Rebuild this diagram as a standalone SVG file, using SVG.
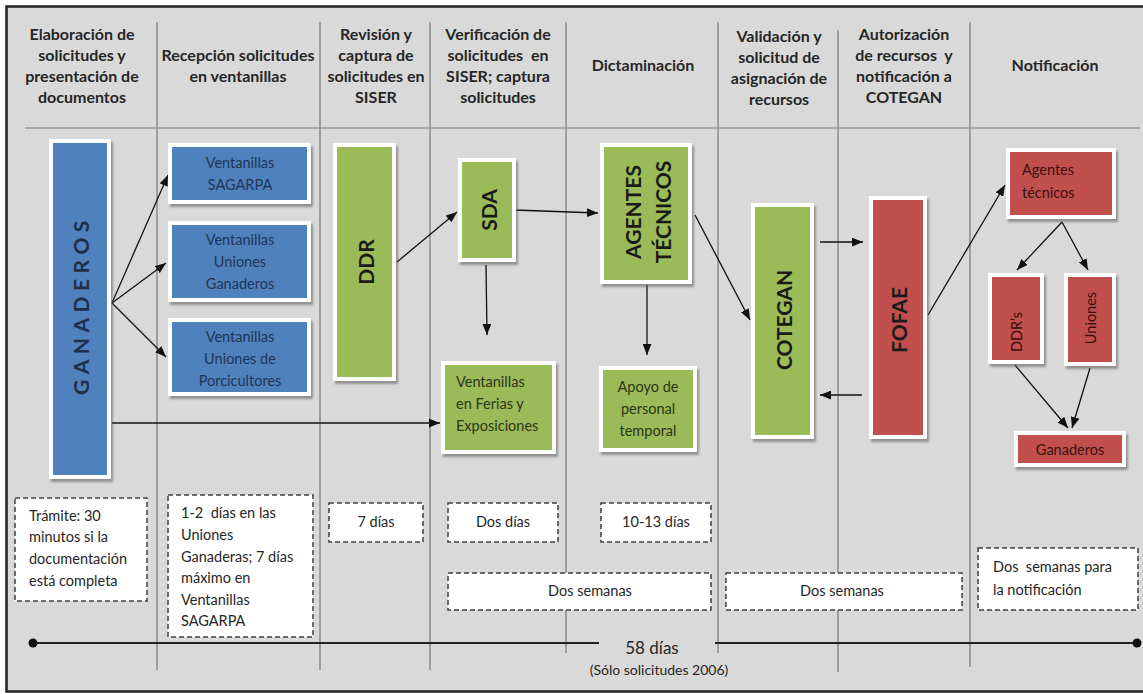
<svg xmlns="http://www.w3.org/2000/svg" width="1143" height="694" viewBox="0 0 1143 694">
<style>
  .hdr{font-family:Lato,"Liberation Sans",sans-serif;font-weight:bold;font-size:16px;fill:#262626;text-anchor:middle}
  .col{stroke:#8a8a8a;stroke-width:1.5;fill:none}
  .box{stroke:#fff;stroke-width:4}
  .blue{fill:#4f81bd}
  .green{fill:#9bbb59}
  .red{fill:#c0504d}
  .t{font-family:Lato,"Liberation Sans",sans-serif;font-size:14.5px}
  .tb{fill:#1f3558}
  .tg{fill:#2b3516}
  .tr{fill:#3a1010}
  .big{font-family:Lato,"Liberation Sans",sans-serif;font-weight:bold;font-size:21px;text-anchor:middle;dominant-baseline:central}
  .mid{text-anchor:middle}
  .dash{fill:#fff;stroke:#404040;stroke-width:1.5;stroke-dasharray:5 3}
  .dt{font-family:Lato,"Liberation Sans",sans-serif;font-size:14.5px;fill:#262626}
  .arr{stroke:#111;stroke-width:1.3;fill:none;marker-end:url(#ah)}
</style>
<defs>
  <marker id="ah" viewBox="0 0 10 8" refX="10" refY="4" markerWidth="11" markerHeight="9" markerUnits="userSpaceOnUse" orient="auto">
    <path d="M0,0 L10,4 L0,8 z" fill="#111"/>
  </marker>
  <filter id="sh" x="-10%" y="-10%" width="130%" height="130%">
    <feDropShadow dx="2" dy="3" stdDeviation="1.2" flood-color="#555" flood-opacity="0.55"/>
  </filter>
</defs>

<rect x="0" y="0" width="1143" height="694" fill="#fff"/>
<rect x="6.5" y="6.5" width="1140" height="685" fill="#d9d9d9" stroke="#222" stroke-width="2.5"/>

<g id="grid">
  <line class="col" x1="25" y1="128" x2="1140" y2="128" stroke-width="2" style="stroke:#9a9a9a"/>
  <line class="col" x1="157" y1="22" x2="157" y2="670"/>
  <line class="col" x1="320" y1="22" x2="320" y2="670"/>
  <line class="col" x1="430" y1="22" x2="430" y2="670"/>
  <line class="col" x1="566" y1="22" x2="566" y2="653"/>
  <line class="col" x1="718" y1="22" x2="718" y2="653"/>
  <line class="col" x1="838" y1="30" x2="838" y2="672"/>
  <line class="col" x1="970" y1="22" x2="970" y2="667"/>
</g>

<g id="headers">
  <text class="hdr" x="82" y="40">Elaboración de</text>
  <text class="hdr" x="82" y="61">solicitudes y</text>
  <text class="hdr" x="82" y="82">presentación de</text>
  <text class="hdr" x="82" y="103">documentos</text>
  <text class="hdr" x="238" y="61">Recepción solicitudes</text>
  <text class="hdr" x="238" y="82">en ventanillas</text>
  <text class="hdr" x="376" y="40">Revisión y</text>
  <text class="hdr" x="376" y="61">captura de</text>
  <text class="hdr" x="376" y="82">solicitudes en</text>
  <text class="hdr" x="376" y="103">SISER</text>
  <text class="hdr" x="498" y="40">Verificación de</text>
  <text class="hdr" x="498" y="61" xml:space="preserve">solicitudes  en</text>
  <text class="hdr" x="498" y="82">SISER; captura</text>
  <text class="hdr" x="498" y="103">solicitudes</text>
  <text class="hdr" x="643" y="71">Dictaminación</text>
  <text class="hdr" x="779" y="42">Validación y</text>
  <text class="hdr" x="779" y="63">solicitud de</text>
  <text class="hdr" x="779" y="84">asignación de</text>
  <text class="hdr" x="779" y="105">recursos</text>
  <text class="hdr" x="904" y="40">Autorización</text>
  <text class="hdr" x="904" y="61" xml:space="preserve">de recursos  y</text>
  <text class="hdr" x="904" y="82">notificación a</text>
  <text class="hdr" x="904" y="103">COTEGAN</text>
  <text class="hdr" x="1055" y="71">Notificación</text>
</g>

<g id="connectors">
  <path class="arr" d="M112,303 L168,175"/>
  <path class="arr" d="M112,303 L166,263"/>
  <path class="arr" d="M112,303 L166,357"/>
  <path class="arr" d="M112,423 L440,423"/>
  <path class="arr" d="M397,262 L457,212"/>
  <path class="arr" d="M514,210 L598,213"/>
  <path class="arr" d="M486,265 L487,335"/>
  <path class="arr" d="M647,285 L647,355"/>
  <path class="arr" d="M695,215 L750,320"/>
  <path class="arr" d="M820,242 L863,242"/>
  <path class="arr" d="M862,395 L820,395"/>
  <path class="arr" d="M928,315 L1005,185"/>
  <path class="arr" d="M1062,222 L1017,270"/>
  <path class="arr" d="M1062,222 L1088,270"/>
  <path class="arr" d="M1015,365 L1068,428"/>
  <path class="arr" d="M1090,368 L1072,428"/>
</g>

<g id="ganaderos">
  <rect class="box blue" x="51" y="141" width="58" height="336" filter="url(#sh)"/>
  <text class="big" x="80" y="305" transform="rotate(-90 80 305)" fill="#1d2f4a" letter-spacing="5.5">GANADEROS</text>
</g>
<g id="v-sagarpa">
  <rect class="box blue" x="170" y="145" width="139" height="57" filter="url(#sh)"/>
  <text class="t tb mid" x="240" y="168">Ventanillas</text>
  <text class="t tb mid" x="240" y="190">SAGARPA</text>
</g>
<g id="v-uniones-ganaderos">
  <rect class="box blue" x="170" y="223" width="139" height="77" filter="url(#sh)"/>
  <text class="t tb mid" x="240" y="245">Ventanillas</text>
  <text class="t tb mid" x="240" y="267">Uniones</text>
  <text class="t tb mid" x="240" y="289">Ganaderos</text>
</g>
<g id="v-uniones-porcicultores">
  <rect class="box blue" x="170" y="320" width="139" height="74" filter="url(#sh)"/>
  <text class="t tb mid" x="240" y="342">Ventanillas</text>
  <text class="t tb mid" x="240" y="364">Uniones de</text>
  <text class="t tb mid" x="240" y="386">Porcicultores</text>
</g>
<g id="ddr">
  <rect class="box green" x="335" y="145" width="59" height="234" filter="url(#sh)"/>
  <text class="big" x="365" y="262" transform="rotate(-90 365 262)" fill="#1a1a1a">DDR</text>
</g>
<g id="sda">
  <rect class="box green" x="460" y="160" width="54" height="100" filter="url(#sh)"/>
  <text class="big" x="488" y="210" transform="rotate(-90 488 210)" fill="#1a1a1a">SDA</text>
</g>
<g id="agentes-tecnicos">
  <rect class="box green" x="602" y="145" width="88" height="137" filter="url(#sh)"/>
  <text class="big" x="632" y="212" transform="rotate(-90 632 212)" fill="#1a1a1a">AGENTES</text>
  <text class="big" x="662" y="212" transform="rotate(-90 662 212)" fill="#1a1a1a">TÉCNICOS</text>
</g>
<g id="v-ferias">
  <rect class="box green" x="443" y="363" width="111" height="89" filter="url(#sh)"/>
  <text class="t tg" x="456" y="387">Ventanillas</text>
  <text class="t tg" x="456" y="409">en Ferias y</text>
  <text class="t tg" x="456" y="431">Exposiciones</text>
</g>
<g id="apoyo">
  <rect class="box green" x="601" y="368" width="94" height="82" filter="url(#sh)"/>
  <text class="t tg mid" x="648" y="392">Apoyo de</text>
  <text class="t tg mid" x="648" y="414">personal</text>
  <text class="t tg mid" x="648" y="436">temporal</text>
</g>
<g id="cotegan">
  <rect class="box green" x="753" y="205" width="59" height="232" filter="url(#sh)"/>
  <text class="big" x="783" y="320" transform="rotate(-90 783 320)" fill="#1a1a1a">COTEGAN</text>
</g>
<g id="fofae">
  <rect class="box red" x="871" y="198" width="54" height="239" filter="url(#sh)"/>
  <text class="big" x="898" y="320" transform="rotate(-90 898 320)" fill="#1a1a1a">FOFAE</text>
</g>
<g id="agentes-red">
  <rect class="box red" x="1008" y="150" width="106" height="67" filter="url(#sh)"/>
  <text class="t tr" x="1022" y="175">Agentes</text>
  <text class="t tr" x="1022" y="198">técnicos</text>
</g>
<g id="ddrs">
  <rect class="box red" x="990" y="275" width="52" height="87" filter="url(#sh)"/>
  <text class="t tr mid" x="1016" y="332" font-size="12.5" dominant-baseline="central" transform="rotate(-90 1016 332)">DDR’s</text>
</g>
<g id="uniones">
  <rect class="box red" x="1066" y="275" width="48" height="89" filter="url(#sh)"/>
  <text class="t tr mid" x="1090" y="318" font-size="12.5" dominant-baseline="central" transform="rotate(-90 1090 318)">Uniones</text>
</g>
<g id="ganaderos-red">
  <rect class="box red" x="1016" y="433" width="108" height="32" filter="url(#sh)"/>
  <text class="t tr mid" x="1070" y="455">Ganaderos</text>
</g>

<g id="durations">
  <rect class="dash" x="15" y="498" width="132" height="103"/>
  <text class="dt" x="29" y="521">Trámite: 30</text>
  <text class="dt" x="29" y="542">minutos si la</text>
  <text class="dt" x="29" y="564">documentación</text>
  <text class="dt" x="29" y="586">está completa</text>

  <rect class="dash" x="168" y="495" width="145" height="142"/>
  <text class="dt" x="181" y="518" xml:space="preserve">1-2  días en las</text>
  <text class="dt" x="181" y="540">Uniones</text>
  <text class="dt" x="181" y="562">Ganaderas; 7 días</text>
  <text class="dt" x="181" y="583">máximo en</text>
  <text class="dt" x="181" y="605">Ventanillas</text>
  <text class="dt" x="181" y="626">SAGARPA</text>

  <rect class="dash" x="329" y="503" width="94" height="39"/>
  <text class="dt mid" x="376" y="527">7 días</text>

  <rect class="dash" x="448" y="503" width="110" height="39"/>
  <text class="dt mid" x="503" y="527">Dos días</text>

  <rect class="dash" x="601" y="503" width="110" height="39"/>
  <text class="dt mid" x="656" y="527">10-13 días</text>

  <rect class="dash" x="448" y="573" width="263" height="37"/>
  <text class="dt mid" x="590" y="596">Dos semanas</text>

  <rect class="dash" x="726" y="573" width="236" height="37"/>
  <text class="dt mid" x="842" y="596">Dos semanas</text>

  <rect class="dash" x="978" y="548" width="160" height="62"/>
  <text class="dt" x="993" y="572" xml:space="preserve">Dos  semanas para</text>
  <text class="dt" x="993" y="595">la notificación</text>
</g>

<g id="timeline">
  <line x1="33" y1="643" x2="599" y2="643" stroke="#222" stroke-width="2"/>
  <line x1="715" y1="643" x2="1137" y2="643" stroke="#222" stroke-width="2"/>
  <circle cx="33" cy="643" r="4.5" fill="#111"/>
  <circle cx="1137" cy="643" r="4.5" fill="#111"/>
  <text x="652" y="654" font-family="Lato, 'Liberation Sans', sans-serif" font-size="17" fill="#262626" text-anchor="middle">58 días</text>
  <text x="659" y="675" font-family="Lato, 'Liberation Sans', sans-serif" font-size="14" fill="#262626" text-anchor="middle">(Sólo solicitudes 2006)</text>
</g>
</svg>
